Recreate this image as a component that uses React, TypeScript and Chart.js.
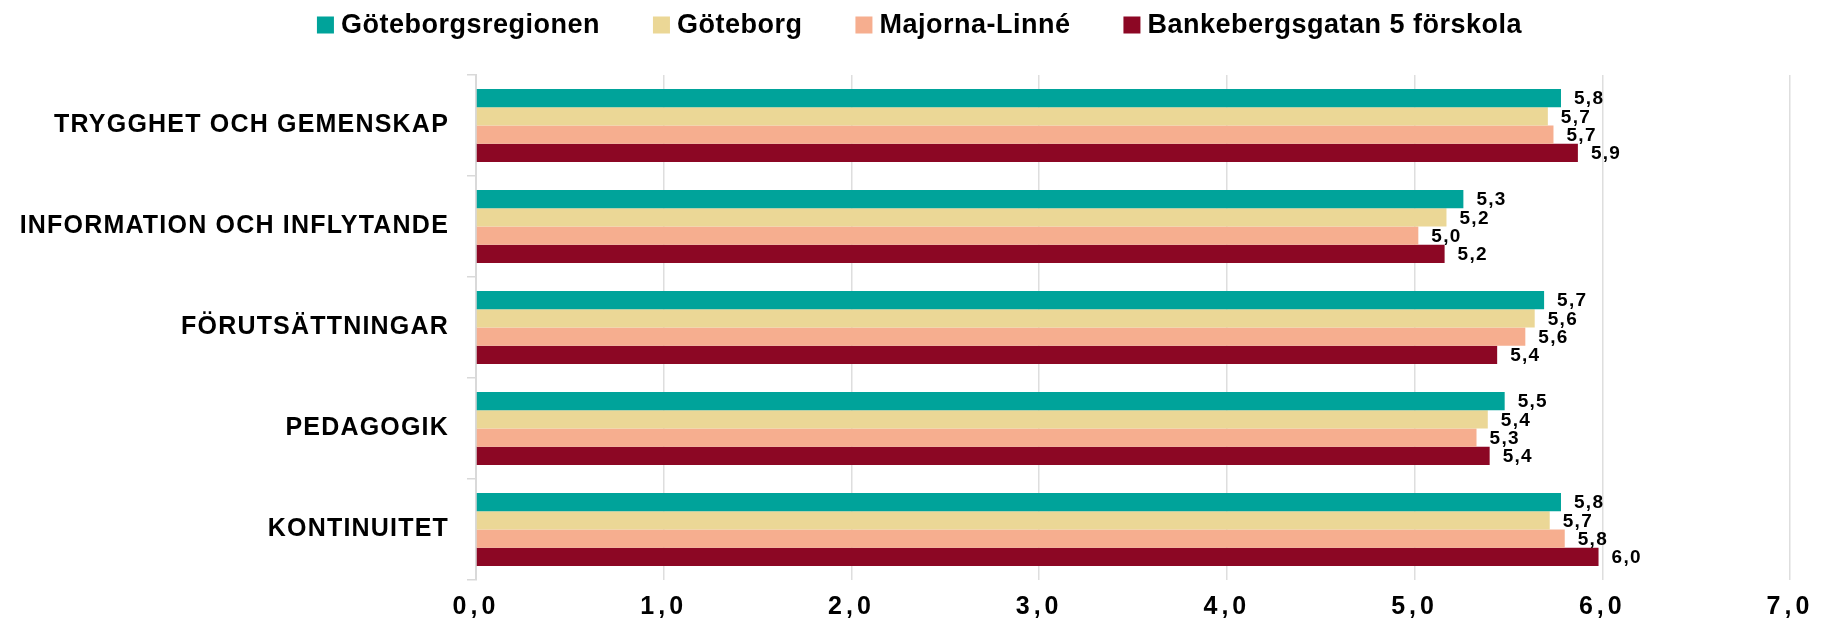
import React, { useEffect, useRef } from 'react';
import { Chart, registerables } from 'chart.js';

Chart.register(...registerables);

const categories = [
  'TRYGGHET OCH GEMENSKAP',
  'INFORMATION OCH INFLYTANDE',
  'FÖRUTSÄTTNINGAR',
  'PEDAGOGIK',
  'KONTINUITET',
];
const seriesNames = ['Göteborgsregionen', 'Göteborg', 'Majorna-Linné', 'Bankebergsgatan 5 förskola'];
const goteborgsregionen = [5.78, 5.26, 5.69, 5.48, 5.78];
const goteborg = [5.71, 5.17, 5.64, 5.39, 5.72];
const majornaLinne = [5.74, 5.02, 5.59, 5.33, 5.8];
const bankebergsgatan = [5.87, 5.16, 5.44, 5.4, 5.98];
const seriesColors = ['#00A39A', '#EBD796', '#F6AE8F', '#8C0724'];
const xMin = 0;
const xMax = 7;
const xStep = 1;

const FONT = '"Liberation Sans", Arial, sans-serif';
const fmt = (v: number) => v.toFixed(1).replace('.', ',');

const spacingPlugin = {
  id: 'spacing',
  beforeDraw(chart: any) {
    (chart.ctx as any).letterSpacing = '1.2px';
  },
  afterDraw(chart: any) {
    (chart.ctx as any).letterSpacing = '0px';
  },
};

const valueLabels = {
  id: 'valueLabels',
  afterDatasetsDraw(chart: any) {
    const ctx = chart.ctx;
    ctx.save();
    (ctx as any).letterSpacing = '1.3px';
    ctx.font = `bold 19px ${FONT}`;
    ctx.fillStyle = '#000';
    ctx.textAlign = 'left';
    ctx.textBaseline = 'middle';
    chart.data.datasets.forEach((ds: any, i: number) => {
      const meta = chart.getDatasetMeta(i);
      meta.data.forEach((bar: any, j: number) => {
        ctx.fillText(fmt(ds.data[j]), bar.x + 13, bar.y + 1);
      });
    });
    ctx.restore();
    // x-axis tick labels are drawn after the datasets (ticks.z = 1), wider spacing
    (ctx as any).letterSpacing = '4px';
  },
};

const customLegend = {
  id: 'customLegend',
  afterDraw(chart: any) {
    const ctx = chart.ctx;
    ctx.save();
    (ctx as any).letterSpacing = '0.5px';
    ctx.font = `bold 27px ${FONT}`;
    const box = 17;
    const gap = 7;
    const itemGap = 53;
    const items = chart.data.datasets.map((ds: any) => ({
      text: ds.label,
      color: ds.backgroundColor,
      w: ctx.measureText(ds.label).width,
    }));
    const total =
      items.reduce((s: number, it: any) => s + box + gap + it.w, 0) + itemGap * (items.length - 1);
    let x = chart.width / 2 + 5 - total / 2;
    const cy = 25;
    ctx.textAlign = 'left';
    ctx.textBaseline = 'middle';
    items.forEach((it: any) => {
      ctx.fillStyle = it.color;
      ctx.fillRect(x, cy - box / 2, box, box);
      ctx.fillStyle = '#000';
      ctx.fillText(it.text, x + box + gap, cy + 1);
      x += box + gap + it.w + itemGap;
    });
    ctx.restore();
  },
};

function BarChart() {
  const ref = useRef<HTMLCanvasElement | null>(null);
  useEffect(() => {
    if (!ref.current) return;
    const seriesValues = [goteborgsregionen, goteborg, majornaLinne, bankebergsgatan];
    const chart = new Chart(ref.current, {
      type: 'bar',
      data: {
        labels: categories,
        datasets: seriesNames.map((name, i) => ({
          label: name,
          data: seriesValues[i],
          backgroundColor: seriesColors[i],
          borderWidth: 0,
          categoryPercentage: 0.723,
          barPercentage: 1,
        })),
      },
      options: {
        indexAxis: 'y',
        animation: false,
        responsive: true,
        maintainAspectRatio: false,
        layout: { padding: { top: 75, right: 39, left: 0, bottom: 0 } },
        plugins: {
          legend: { display: false },
          tooltip: { enabled: false },
        },
        scales: {
          x: {
            min: xMin,
            max: xMax,
            ticks: {
              stepSize: xStep,
              padding: 12,
              z: 1,
              color: '#000',
              font: { family: FONT, size: 25, weight: 'bold' },
              callback: (v: any) => fmt(Number(v)),
            },
            grid: { color: '#dedede', lineWidth: 1.5, drawTicks: false },
            border: { display: false },
            afterFit: (s: any) => {
              s.height = 40;
            },
          },
          y: {
            ticks: {
              padding: 18,
              color: '#000',
              font: { family: FONT, size: 25, weight: 'bold' },
            },
            grid: {
              drawOnChartArea: false,
              drawTicks: true,
              tickLength: 9,
              color: '#d9d9d9',
              lineWidth: 1.5,
              offset: true,
            },
            border: { display: true, color: '#d9d9d9', width: 2 },
            afterFit: (s: any) => {
              s.width = 476;
            },
          },
        },
      },
      plugins: [spacingPlugin, valueLabels, customLegend],
    });
    return () => chart.destroy();
  }, []);
  return (
    <div style={{ position: 'fixed', left: 0, top: 0, width: '100vw', height: '100vh' }}>
      <canvas ref={ref} />
    </div>
  );
}

export default function App() {
  return <BarChart />;
}
